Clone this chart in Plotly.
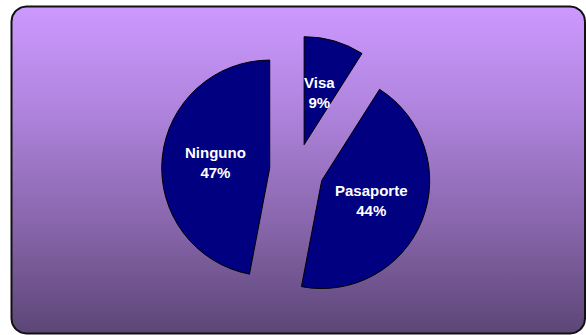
import numpy as np
import plotly.graph_objects as go

# Document types held
labels = ["Visa", "Pasaporte", "Ninguno"]
values = [9, 44, 47]

W, H = 586, 335
SLICE_COLOR = "#000080"
PULL = 0.25

# Pie placement (pixels, y measured upward from the bottom)
pie_cx, pie_cy = 296.6, 164.4
pie_half = 135.0  # radius * (1 + pull)

# Rounded frame behind the chart
fx0, fx1, fy0, fy1, rad = 11.5, 585.0, 1.5, 328.5, 15.0


def rounded_rect(x0, x1, y0, y1, r, n=12):
    xs, ys = [], []
    corners = [
        (x1 - r, y1 - r, 0.0, 90.0),
        (x0 + r, y1 - r, 90.0, 180.0),
        (x0 + r, y0 + r, 180.0, 270.0),
        (x1 - r, y0 + r, 270.0, 360.0),
    ]
    for cx, cy, a0, a1 in corners:
        t = np.radians(np.linspace(a0, a1, n))
        xs.extend(cx + r * np.cos(t))
        ys.extend(cy + r * np.sin(t))
    xs.append(xs[0])
    ys.append(ys[0])
    return xs, ys


bx, by = rounded_rect(fx0, fx1, fy0, fy1, rad)

fig = go.Figure()

fig.add_trace(go.Scatter(
    x=bx, y=by, mode="lines", fill="toself",
    line=dict(color="#111111", width=2),
    fillgradient=dict(
        type="vertical",
        colorscale=[
            [0.0, "#5C4676"],
            [0.35, "#8A67AE"],
            [0.7, "#B185DF"],
            [1.0, "#CC99FF"],
        ],
    ),
    hoverinfo="skip", showlegend=False,
))

fig.add_trace(go.Pie(
    labels=labels, values=values,
    sort=False, direction="clockwise", rotation=0,
    pull=[PULL] * len(values),
    marker=dict(colors=[SLICE_COLOR] * len(values),
                line=dict(color="#000000", width=1)),
    textinfo="none", hoverinfo="label+percent",
    domain=dict(x=[(pie_cx - pie_half) / W, (pie_cx + pie_half) / W],
                y=[(pie_cy - pie_half) / H, (pie_cy + pie_half) / H]),
    showlegend=False,
))

# Slice labels at half radius along each pulled slice's bisector
r = pie_half / (1 + PULL)
total = sum(values)
start = 0.0
for lab, v in zip(labels, values):
    frac = v / total
    mid = np.radians((start + frac / 2) * 360.0)
    start += frac
    dist = (PULL + 0.5) * r
    fig.add_annotation(
        x=pie_cx + dist * np.sin(mid), y=pie_cy + dist * np.cos(mid),
        xref="x", yref="y", showarrow=False,
        text=f"{lab}<br>{round(frac * 100):d}%",
        font=dict(family="Liberation Sans, Arial, sans-serif", size=15,
                  color="white", weight="bold"),
        align="center",
    )

fig.update_layout(
    width=W, height=H,
    margin=dict(l=0, r=0, t=0, b=0),
    paper_bgcolor="white", plot_bgcolor="rgba(0,0,0,0)",
    xaxis=dict(range=[0, W], visible=False, fixedrange=True),
    yaxis=dict(range=[0, H], visible=False, fixedrange=True),
)

fig.write_html("out.html")
